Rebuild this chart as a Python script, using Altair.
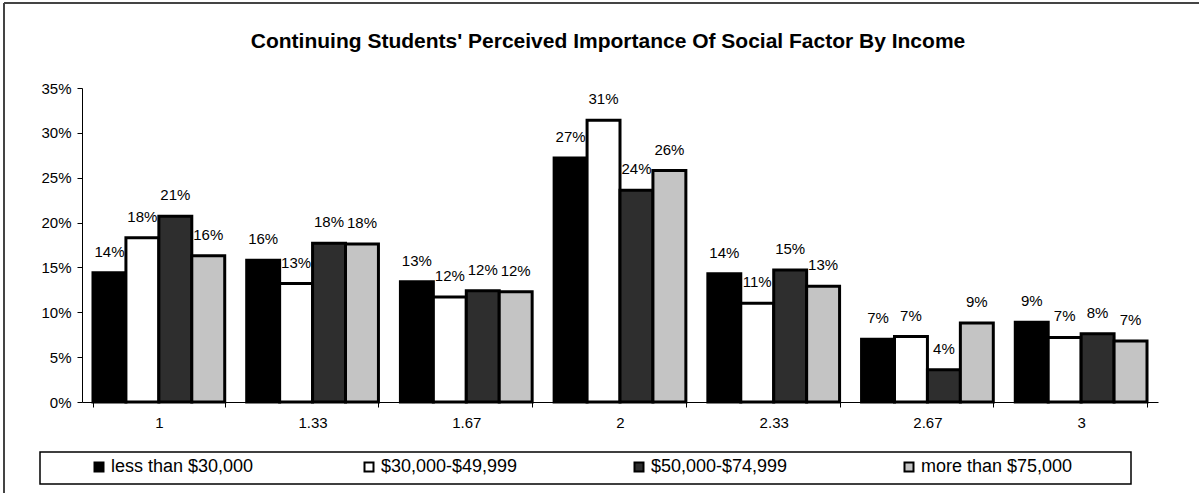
import altair as alt
import pandas as pd

# Average social-factor score groups (x axis)
categories = ["1", "1.33", "1.67", "2", "2.33", "2.67", "3"]

# Household income groups (series)
series = ["less than $30,000", "$30,000-$49,999", "$50,000-$74,999", "more than $75,000"]

# Share of continuing students in each score group, per income group
less_30k = [0.144, 0.158, 0.134, 0.272, 0.143, 0.070, 0.089]
from_30k = [0.183, 0.132, 0.117, 0.314, 0.110, 0.073, 0.072]
from_50k = [0.207, 0.177, 0.124, 0.236, 0.147, 0.036, 0.076]
over_75k = [0.163, 0.176, 0.123, 0.258, 0.129, 0.088, 0.068]

y_ticks = [0, 0.05, 0.10, 0.15, 0.20, 0.25, 0.30, 0.35]

title_text = "Continuing Students' Perceived Importance Of Social Factor By Income"

rows = []
for name, vals in zip(series, [less_30k, from_30k, from_50k, over_75k]):
    for cat, v in zip(categories, vals):
        rows.append({"score": cat, "income": name, "share": v})
df = pd.DataFrame(rows)

FONT = "Liberation Sans"
fills = ["#000000", "#ffffff", "#2e2e2e", "#c4c4c4"]

x_enc = alt.X(
    "score:N",
    sort=categories,
    title=None,
    scale=alt.Scale(paddingInner=0.143, paddingOuter=0.0715),
    axis=alt.Axis(
        labelAngle=0, tickBand="extent", tickSize=5, tickColor="black",
        domainColor="black", labelFont=FONT, labelFontSize=15,
        labelColor="black", labelPadding=8,
    ),
)
y_enc = alt.Y(
    "share:Q",
    title=None,
    scale=alt.Scale(domain=[0, 0.35], nice=False),
    axis=alt.Axis(
        format=".0%", values=y_ticks, grid=False, tickSize=5,
        tickColor="black", domainColor="black", labelFont=FONT,
        labelFontSize=15, labelColor="black", labelPadding=6,
    ),
)
offset_enc = alt.XOffset(
    "income:N", sort=series, scale=alt.Scale(paddingInner=0, paddingOuter=0)
)

base = alt.Chart(df)

bars = base.mark_bar(stroke="black", strokeWidth=3).encode(
    x=x_enc,
    y=y_enc,
    xOffset=offset_enc,
    color=alt.Color(
        "income:N",
        sort=series,
        scale=alt.Scale(domain=series, range=fills),
        legend=alt.Legend(
            title=None, orient="none", legendX=8, legendY=370,
            direction="horizontal", columns=4, gridAlign="all",
            columnPadding=97, symbolType="square", symbolSize=81,
            symbolStrokeColor="black", symbolStrokeWidth=2,
            symbolOpacity=1, labelFont=FONT, labelFontSize=18,
            labelColor="black", labelOffset=3, padding=0,
        ),
    ),
)

labels = base.mark_text(dy=-21, fontSize=15, font=FONT, color="black").encode(
    x=x_enc,
    y=y_enc,
    xOffset=offset_enc,
    text=alt.Text("share:Q", format=".0%"),
)

frame_data = alt.Data(values=[{}])

title = alt.Chart(frame_data).mark_text(
    text=title_text, font=FONT, fontSize=21, fontWeight="bold",
    color="black", align="center", baseline="middle",
).encode(x=alt.value(526), y=alt.value(-46))

legend_box = alt.Chart(frame_data).mark_rect(
    filled=False, stroke="black", strokeWidth=1.5
).encode(
    x=alt.value(-42), x2=alt.value(1049), y=alt.value(364), y2=alt.value(396)
)

border_left = alt.Chart(frame_data).mark_rule(color="#444444", strokeWidth=2).encode(
    x=alt.value(-78), y=alt.value(-85), y2=alt.value(420)
)
border_top = alt.Chart(frame_data).mark_rule(color="#444444", strokeWidth=2).encode(
    x=alt.value(-78), x2=alt.value(1130), y=alt.value(-85)
)

chart = (
    alt.layer(border_left, border_top, legend_box, title, bars, labels)
    .properties(
        width=1076,
        height=314,
        padding={"left": 82, "top": 88, "right": 41, "bottom": 91},
        autosize="none",
        background="white",
    )
    .configure_view(strokeWidth=0)
)

chart.save("out.html", embed_options={"renderer": "svg", "actions": False})
